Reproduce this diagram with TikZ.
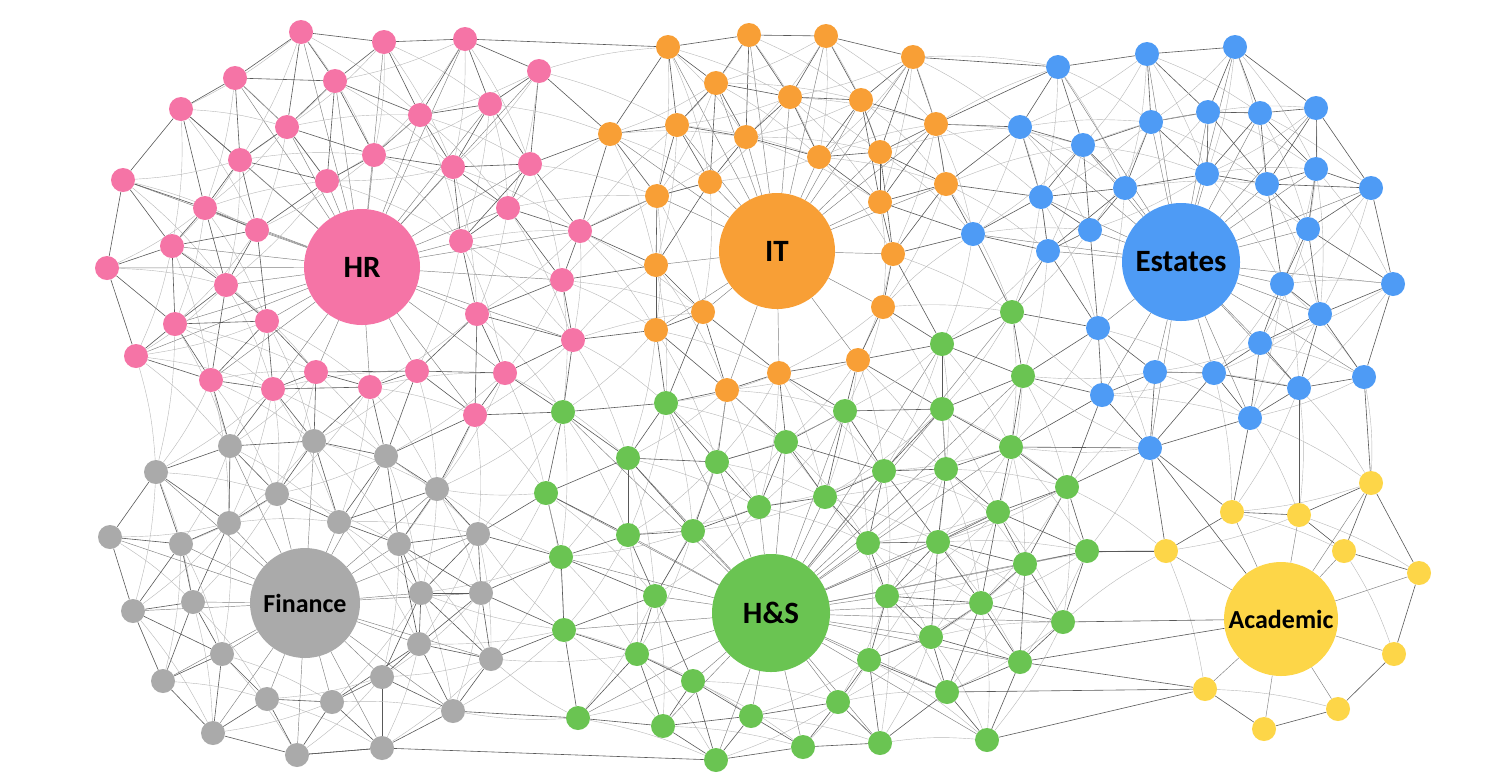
\documentclass[tikz,border=0pt]{standalone}
\usepackage{fontspec}
\setmainfont{Carlito}
\pgfdeclarelayer{back}
\pgfdeclarelayer{bg}
\pgfsetlayers{back,bg,main}
\definecolor{colHR}{RGB}{245,116,166}
\definecolor{colIT}{RGB}{248,159,54}
\definecolor{colES}{RGB}{78,155,245}
\definecolor{colHS}{RGB}{106,196,82}
\definecolor{colFI}{RGB}{170,170,170}
\definecolor{colAC}{RGB}{253,214,72}
\tikzset{
  dot/.style={circle, draw=none, inner sep=0pt, minimum size=24pt},
  hub/.style={circle, draw=none, inner sep=0pt, text=black, font=\fontsize{31}{31}\selectfont\bfseries},
  hubsmall/.style={hub, font=\fontsize{26}{26}\selectfont\bfseries},
  edge/.style={draw=black!65, line width=0.6pt},
  faint/.style={draw=black!28, line width=0.4pt},
  spoke/.style={draw=black!50, line width=0.45pt},
}
\def\allnodes{p1/301/32/HR, p2/384/42/HR, p3/465/39/HR, p4/235/78/HR, p5/335/81/HR, p6/539/71/HR, p7/181/109/HR, p8/287/127/HR, p9/420/115/HR, p10/490/104/HR, p11/240/160/HR, p12/374/155/HR, p13/453/167/HR, p14/530/164/HR, p15/123/180/HR, p16/205/208/HR, p17/327/181/HR, p18/508/208/HR, p19/172/246/HR, p20/257/230/HR, p21/461/241/HR, p22/580/231/HR, p23/107/268/HR, p24/226/285/HR, p25/562/280/HR, p26/175/324/HR, p27/267/321/HR, p28/477/314/HR, p29/573/340/HR, p30/136/356/HR, p31/211/380/HR, p32/273/389/HR, p33/316/372/HR, p34/370/387/HR, p35/417/371/HR, p36/505/373/HR, p37/475/415/HR,
o1/668/47/IT, o2/749/35/IT, o3/826/36/IT, o4/913/57/IT, o5/716/83/IT, o6/790/97/IT, o7/861/100/IT, o8/610/134/IT, o9/677/125/IT, o10/746/137/IT, o11/819/157/IT, o12/880/152/IT, o13/936/124/IT, o14/657/196/IT, o15/710/182/IT, o16/880/202/IT, o17/946/184/IT, o18/893/254/IT, o19/656/265/IT, o20/883/307/IT, o21/703/312/IT, o22/656/330/IT, o23/858/360/IT, o24/727/390/IT, o25/779/373/IT,
b1/1058/67/ES, b2/1147/54/ES, b3/1235/47/ES, b4/1020/127/ES, b5/1083/145/ES, b6/1151/122/ES, b7/1208/112/ES, b8/1260/113/ES, b9/1316/108/ES, b10/1041/197/ES, b11/1125/188/ES, b12/1207/174/ES, b13/1267/184/ES, b14/1316/169/ES, b15/1371/188/ES, b16/973/234/ES, b17/1048/251/ES, b18/1090/230/ES, b19/1308/229/ES, b20/1282/284/ES, b21/1393/284/ES, b22/1320/314/ES, b23/1098/328/ES, b24/1260/343/ES, b25/1155/372/ES, b26/1214/373/ES, b27/1299/388/ES, b28/1364/377/ES, b29/1102/395/ES, b30/1250/418/ES, b31/1150/448/ES,
g1/1012/312/HS, g2/942/344/HS, g3/1023/376/HS, g4/666/403/HS, g5/563/412/HS, g6/845/411/HS, g7/942/409/HS, g8/786/442/HS, g9/628/458/HS, g10/717/462/HS, g11/1011/447/HS, g12/884/471/HS, g13/946/469/HS, g14/546/493/HS, g15/825/497/HS, g16/1067/487/HS, g17/759/507/HS, g18/628/535/HS, g19/693/531/HS, g20/998/512/HS, g21/561/557/HS, g22/868/543/HS, g23/938/542/HS, g24/1087/551/HS, g25/1025/564/HS, g26/655/596/HS, g27/887/596/HS, g28/981/603/HS, g29/564/630/HS, g30/931/637/HS, g31/1063/622/HS, g32/637/654/HS, g33/869/660/HS, g34/1020/662/HS, g35/693/681/HS, g36/838/702/HS, g37/947/692/HS, g38/578/718/HS, g39/663/726/HS, g40/751/716/HS, g41/880/743/HS, g42/987/740/HS, g43/803/747/HS, g44/716/760/HS,
f1/230/446/FI, f2/314/441/FI, f3/386/456/FI, f4/156/472/FI, f5/277/494/FI, f6/437/489/FI, f7/229/523/FI, f8/339/522/FI, f9/110/537/FI, f10/181/544/FI, f11/399/544/FI, f12/478/534/FI, f13/193/602/FI, f14/133/611/FI, f15/421/593/FI, f16/481/593/FI, f17/222/654/FI, f18/419/644/FI, f19/491/659/FI, f20/163/681/FI, f21/382/677/FI, f22/267/699/FI, f23/332/702/FI, f24/453/711/FI, f25/213/733/FI, f26/297/755/FI, f27/382/748/FI,
y1/1371/483/AC, y2/1232/512/AC, y3/1299/515/AC, y4/1166/551/AC, y5/1344/551/AC, y6/1419/573/AC, y7/1394/654/AC, y8/1205/689/AC, y9/1338/709/AC, y10/1264/729/AC}
\begin{document}
\begin{tikzpicture}[x=1pt,y=-1pt]
\begin{pgfonlayer}{back}
\fill[white] (0,0) rectangle (1498,780);
\end{pgfonlayer}
\useasboundingbox (0,0) rectangle (1498,780);
% hubs
\node[hub, fill=colHR, minimum size=116pt] (HR) at (362,267) {HR};
\node[hub, fill=colIT, minimum size=116pt] (IT) at (777,251) {IT};
\node[hub, fill=colES, minimum size=118pt] (ES) at (1181,262) {Estates};
\node[hub, fill=colHS, minimum size=118pt] (HS) at (771,613) {H\&S};
\node[hubsmall, fill=colFI, minimum size=110pt] (FI) at (305,603) {Finance};
\node[hubsmall, fill=colAC, minimum size=114pt] (AC) at (1281,619) {Academic};
% small nodes
\foreach \na/\xa/\ya/\ha in \allnodes {
  \node[dot, fill=col\ha] (\na) at (\xa,\ya) {};
}
\begin{pgfonlayer}{bg}
% spokes to hubs
\foreach \na/\xa/\ya/\ha in \allnodes {
  \draw[spoke] (\na) -- (\ha);
}
% neighbour links
\foreach \na/\xa/\ya/\ha [count=\i] in \allnodes {
  \foreach \nb/\xb/\yb/\hb [count=\j] in \allnodes {
    \ifnum\j>\i
      \ifnum\numexpr(\xb-\xa)*(\xb-\xa)+(\yb-\ya)*(\yb-\ya)\relax<11025
        \draw[edge] (\na) -- (\nb);
      \else
        \ifnum\numexpr(\xb-\xa)*(\xb-\xa)+(\yb-\ya)*(\yb-\ya)\relax<22500
          \draw[faint] (\na) to[bend left=6] (\nb);
        \fi
      \fi
    \fi
  }
}
% long links
\foreach \u/\v in {p3/o1, o4/b1, o13/b1, f27/g44, f24/g38, f26/f27, y8/g34, y8/g37, y8/g42, AC/g31, AC/g34, AC/b31, b31/g11, b27/y3, b28/y1, y4/g24} {
  \draw[edge] (\u) -- (\v);
}
\end{pgfonlayer}
\end{tikzpicture}
\end{document}
